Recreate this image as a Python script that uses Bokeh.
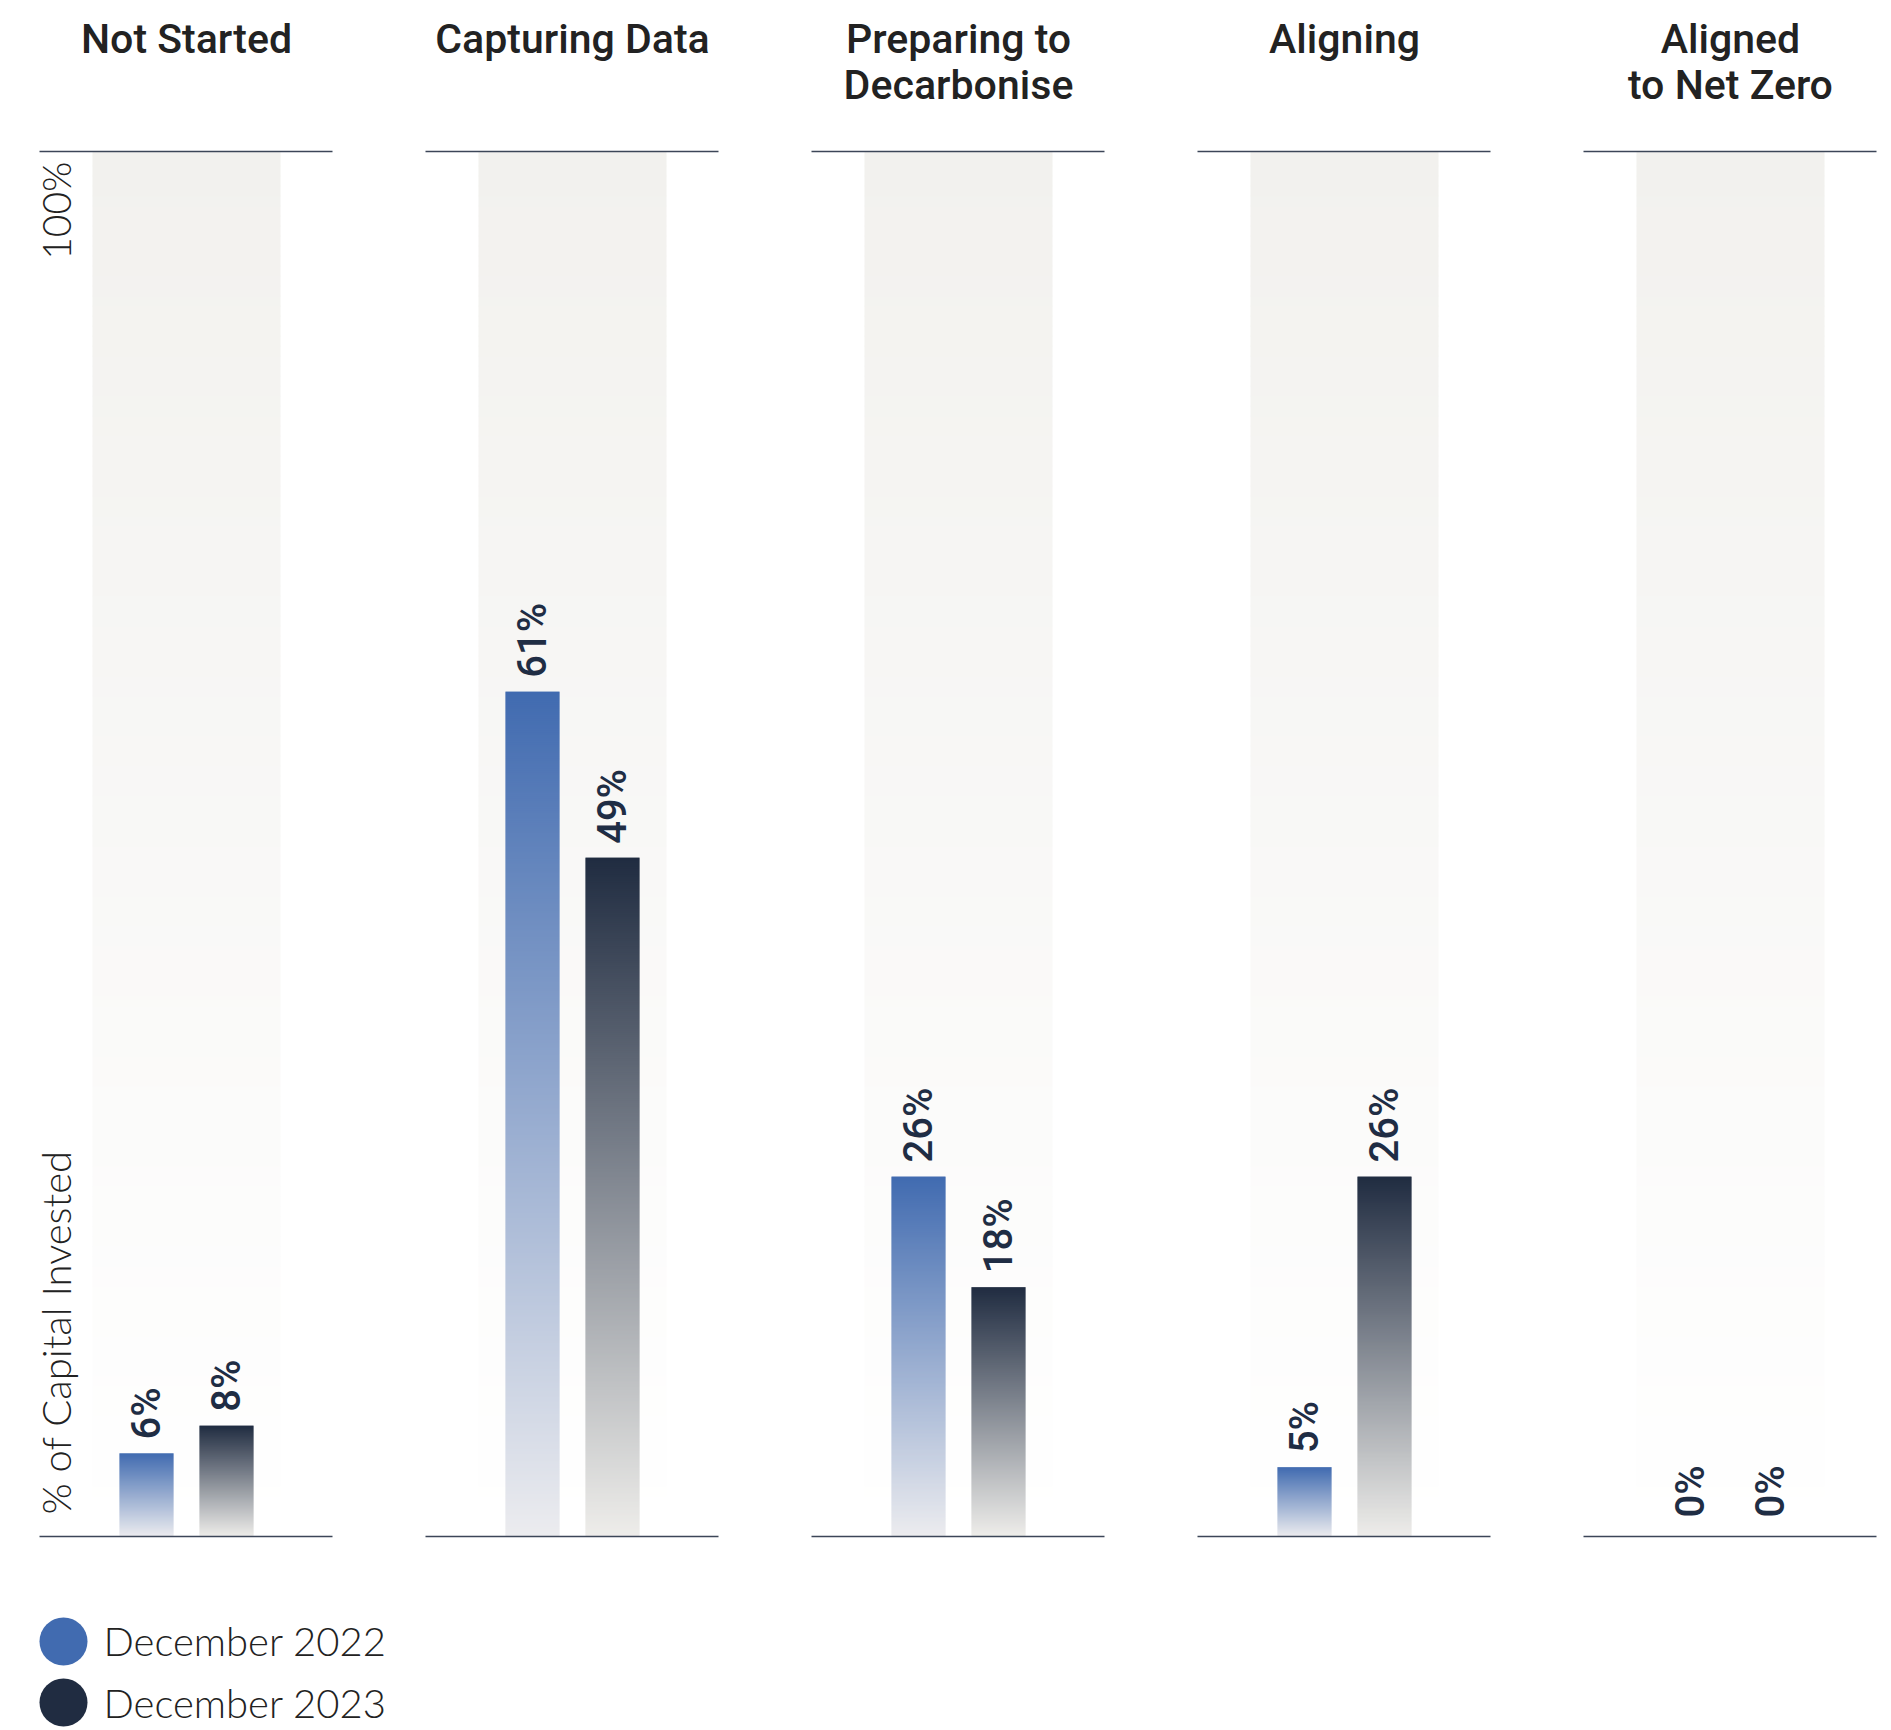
import math
from bokeh.plotting import figure
from bokeh.models import Range1d, ColumnDataSource
from bokeh.core.properties import value
from bokeh.embed import file_html
from bokeh.resources import INLINE

# ---------------- data ----------------
stages = ["Not Started", "Capturing Data", "Preparing to\nDecarbonise", "Aligning", "Aligned\nto Net Zero"]
dec_2022 = [6, 61, 26, 5, 0]
dec_2023 = [8, 49, 18, 26, 0]
series_names = ["December 2022", "December 2023"]
axis_top_label = "100%"
axis_title = "% of Capital Invested"

# ---------------- style / layout ----------------
W, H = 1891, 1730
PANEL = 386.0          # px per stage
ZERO_PY = 1536.0       # screen y of 0%
PX_PER_PCT = 13.85     # px per percentage point
X0 = -186.0 / PANEL    # data x at screen px 0
BASE_FIX = 14.0        # empirical alphabetic-baseline correction (px)
LEG_SHIFT = 6.0        # keep the last legend row inside the page

BLUE = "#416BB0"
NAVY = "#202C41"
BLUE_END = "#ECECEF"
NAVY_END = "#EEEDEA"
COL_TOP = "#F2F1EE"
COL_BOTTOM = "#FFFFFF"
LINE = "#3C4658"
LABEL = "#1F2D44"
TITLE_FONT = value("'Roboto Medium', Roboto")
LIGHT_FONT = value("'Lato Light', Lato")
NUM_FONT = value("'Roboto Medium', Roboto")


def px_x(px):
    return X0 + px / PANEL


def px_y(py):
    return (ZERO_PY - py) / PX_PER_PCT


def hex_rgb(h):
    h = h.lstrip("#")
    return tuple(int(h[i:i + 2], 16) for i in (0, 2, 4))


def mix(c1, c2, t):
    a, b = hex_rgb(c1), hex_rgb(c2)
    return "#%02x%02x%02x" % tuple(round(a[k] + (b[k] - a[k]) * t) for k in range(3))


def gradient_slices(v, step_px):
    """pixel-aligned slice boundaries (in data units) from 0 to v"""
    top_px = v * PX_PER_PCT
    edges = []
    k = 0.0
    while k < top_px:
        edges.append(k)
        k += step_px
    edges.append(top_px)
    return [e / PX_PER_PCT for e in edges]


p = figure(width=W, height=H, output_backend="svg", toolbar_location=None,
           x_range=Range1d(X0, X0 + W / PANEL),
           y_range=Range1d(px_y(H), px_y(0)),
           min_border=0, min_border_left=0, min_border_right=0,
           min_border_top=0, min_border_bottom=0)
p.axis.visible = False
p.grid.visible = False
p.outline_line_color = None
p.background_fill_color = "white"
p.border_fill_color = "white"

n = len(stages)
idx = list(range(n))
ovl = 1.0 / PX_PER_PCT

# background columns (vertical gradient, top -> bottom)
col_half = 94.0 / PANEL
bg = dict(left=[], right=[], bottom=[], top=[], color=[])
for i in idx:
    e = gradient_slices(100, 10)
    for s in range(len(e) - 1):
        bg["left"].append(i - col_half)
        bg["right"].append(i + col_half)
        bg["bottom"].append(e[s])
        bg["top"].append(min(100.0, e[s + 1] + ovl))
        frac = (0.5 * (e[s] + e[s + 1])) / 100.0
        bg["color"].append(mix(COL_BOTTOM, COL_TOP, frac))
p.quad(left="left", right="right", bottom="bottom", top="top", fill_color="color",
       line_color=None, source=ColumnDataSource(bg))

# bars with gradient
bar_half = 27.0 / PANEL
offset = 40.0 / PANEL
bars = dict(left=[], right=[], bottom=[], top=[], color=[])
for series, sign, c_top, c_bot in ((dec_2022, -1, BLUE, BLUE_END), (dec_2023, 1, NAVY, NAVY_END)):
    for i, v in zip(idx, series):
        if v <= 0:
            continue
        cx = i + sign * offset
        e = gradient_slices(v, 2)
        for s in range(len(e) - 1):
            bars["left"].append(cx - bar_half)
            bars["right"].append(cx + bar_half)
            bars["bottom"].append(e[s])
            bars["top"].append(min(v, e[s + 1] + ovl))
            frac = (0.5 * (e[s] + e[s + 1])) / v
            bars["color"].append(mix(c_bot, c_top, frac))
p.quad(left="left", right="right", bottom="bottom", top="top", fill_color="color",
       line_color=None, source=ColumnDataSource(bars))

# top and bottom rules per stage
l_left = -147.0 / PANEL
l_right = 146.0 / PANEL
for yv in (0, 100):
    p.segment(x0=[i + l_left for i in idx], x1=[i + l_right for i in idx],
              y0=[yv] * n, y1=[yv] * n, line_color=LINE, line_width=1.6)

# value labels (rotated)
gap = 14.0 / PX_PER_PCT
lab_x, lab_y, lab_t = [], [], []
for series, sign in ((dec_2022, -1), (dec_2023, 1)):
    for i, v in zip(idx, series):
        lab_x.append(i + sign * offset)
        lab_y.append(v + (gap if v > 0 else 19.0 / PX_PER_PCT))
        lab_t.append(f"{v}%")
p.text(x=lab_x, y=lab_y, text=lab_t, angle=math.pi / 2, text_align="left",
       text_baseline="middle", text_font=NUM_FONT, text_font_size="40px",
       text_color=LABEL)

# stage titles (one or two lines)
t_x, t_y, t_t = [], [], []
for i, name in zip(idx, stages):
    for k, line in enumerate(name.split("\n")):
        t_x.append(i)
        t_y.append(px_y(52 - BASE_FIX + 46 * k))
        t_t.append(line)
p.text(x=t_x, y=t_y, text=t_t, text_align="center", text_baseline="alphabetic",
       text_font=TITLE_FONT, text_font_size="41px", text_color="#222222")

# axis texts
p.text(x=[px_x(55)], y=[px_y(161)], text=[axis_top_label], angle=math.pi / 2,
       text_align="right", text_baseline="middle", text_font=LIGHT_FONT,
       text_font_size="39px", text_color="#222222")
p.text(x=[px_x(55)], y=[px_y(1514)], text=[axis_title], angle=math.pi / 2,
       text_align="left", text_baseline="middle", text_font=LIGHT_FONT,
       text_font_size="40px", text_color="#222222")

# legend
leg_y = [px_y(1647 - LEG_SHIFT), px_y(1708 - LEG_SHIFT)]
p.scatter(x=[px_x(63)] * 2, y=leg_y, size=48, marker="circle",
          fill_color=[BLUE, NAVY], line_color=None)
p.text(x=[px_x(103)] * 2,
       y=[px_y(1660 - BASE_FIX - LEG_SHIFT), px_y(1722 - BASE_FIX - LEG_SHIFT)],
       text=series_names, text_align="left", text_baseline="alphabetic",
       text_font=LIGHT_FONT, text_font_size="40px", text_color="#222222")

open("out.html", "w").write(file_html(p, INLINE))
